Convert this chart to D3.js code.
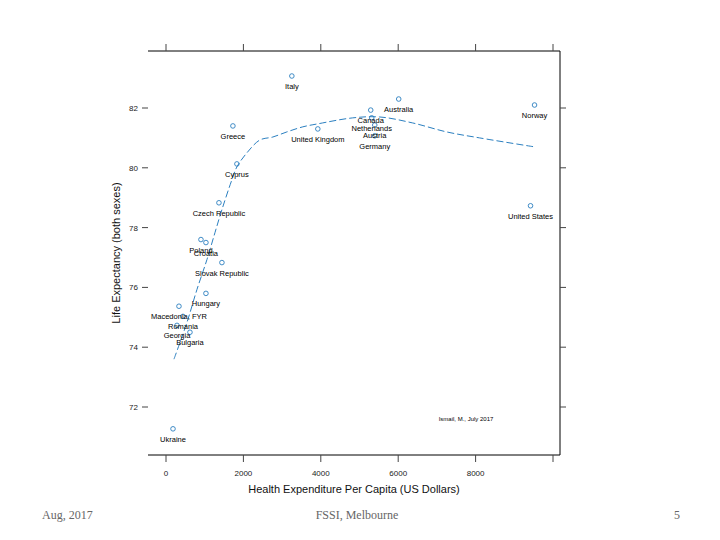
<!DOCTYPE html>
<html><head><meta charset="utf-8">
<script src="https://cdn.jsdelivr.net/npm/d3@7"></script>
<style>body{margin:0;background:#fff}</style>
</head><body>
<svg id="c" width="720" height="540"></svg>
<script>
const countries = ["Italy","Australia","Canada","Netherlands","Austria","Germany","Norway","United Kingdom","United States","Greece","Cyprus","Czech Republic","Poland","Croatia","Slovak Republic","Hungary","Macedonia, FYR","Romania","Georgia","Bulgaria","Ukraine"];
const spending = [3252,6013,5290,5316,5394,5394,9523,3923,9419,1729,1832,1368,903,1032,1445,1032,335,439,284,619,181];
const lifeExp = [83.07,82.30,81.93,81.67,81.43,81.07,82.10,81.30,78.73,81.40,80.13,78.83,77.60,77.50,76.83,75.80,75.37,75.03,74.73,74.50,71.27];
const smoothX = [206,542,800,1058,1265,1445,1703,1832,2090,2426,2761,3123,3535,3923,4826,5523,6374,7252,8103,9523];
const smoothY = [73.6,74.83,75.93,76.93,77.83,78.6,79.6,80.03,80.5,80.93,81.03,81.2,81.37,81.47,81.67,81.7,81.5,81.2,81.0,80.7];
const xTicks = [0,2000,4000,6000,8000];
const xTickMarks = [0,2000,4000,6000,8000,10000];
const yTicks = [72,74,76,78,80,82];

const svg = d3.select("#c");
const L=148,R=560,T=51,B=455;
const x = d3.scaleLinear().domain([0,10000]).range([166,553]);
const y = d3.scaleLinear().domain([72,82]).range([407,108]);
const blue = "#2b7fc0";

svg.append("path").attr("d",`M${L},${T}H${R}V${B}H${L}`).attr("fill","none").attr("stroke","#000").attr("stroke-width",1);

const tc="#444";
svg.append("g").selectAll("line").data(xTickMarks).join("line")
  .attr("x1",d=>x(d)).attr("x2",d=>x(d)).attr("y1",B).attr("y2",B+7).attr("stroke",tc);
svg.append("g").selectAll("line").data(xTickMarks).join("line")
  .attr("x1",d=>x(d)).attr("x2",d=>x(d)).attr("y1",T).attr("y2",T-7).attr("stroke",tc);
svg.append("g").selectAll("text").data(xTicks).join("text")
  .attr("x",d=>x(d)).attr("y",476).attr("text-anchor","middle")
  .attr("font-family","Liberation Sans, Arial, sans-serif").attr("font-size",8).attr("fill","#222").text(d=>d);
svg.append("g").selectAll("line").data(yTicks).join("line")
  .attr("x1",L-6).attr("x2",L).attr("y1",d=>y(d)).attr("y2",d=>y(d)).attr("stroke",tc);
svg.append("g").selectAll("line").data(yTicks).join("line")
  .attr("x1",R).attr("x2",R+6).attr("y1",d=>y(d)).attr("y2",d=>y(d)).attr("stroke",tc);
svg.append("g").selectAll("text").data(yTicks).join("text")
  .attr("x",138).attr("y",d=>y(d)+3).attr("text-anchor","end")
  .attr("font-family","Liberation Sans, Arial, sans-serif").attr("font-size",8).attr("fill","#222").text(d=>d);

svg.append("text").attr("x",354).attr("y",493).attr("text-anchor","middle")
  .attr("font-family","Liberation Sans, Arial, sans-serif").attr("font-size",11).attr("fill","#111")
  .text("Health Expenditure Per Capita (US Dollars)");
svg.append("text").attr("transform","translate(120,253) rotate(-90)").attr("text-anchor","middle")
  .attr("font-family","Liberation Sans, Arial, sans-serif").attr("font-size",11).attr("fill","#111")
  .text("Life Expectancy (both sexes)");

const line = d3.line().x(d=>x(d[0])).y(d=>y(d[1])).curve(d3.curveCatmullRom.alpha(0.5));
svg.append("path").datum(smoothX.map((v,i)=>[v,smoothY[i]]))
  .attr("d",line).attr("fill","none").attr("stroke",blue).attr("stroke-width",1).attr("stroke-dasharray","7,3");

const data = countries.map((c,i)=>({c,x:spending[i],y:lifeExp[i]}));
svg.append("g").selectAll("circle").data(data).join("circle")
  .attr("cx",d=>x(d.x)).attr("cy",d=>y(d.y)).attr("r",2.3)
  .attr("fill","none").attr("stroke",blue).attr("stroke-width",0.9);
svg.append("g").selectAll("text").data(data).join("text")
  .attr("x",d=>x(d.x)).attr("y",d=>y(d.y)+13).attr("text-anchor","middle")
  .attr("font-family","Liberation Sans, Arial, sans-serif").attr("font-size",7.5).attr("fill","#000")
  .text(d=>d.c);

svg.append("text").attr("x",466).attr("y",421).attr("text-anchor","middle")
  .attr("font-family","Liberation Sans, Arial, sans-serif").attr("font-size",6).attr("fill","#000")
  .text("Ismail, M., July 2017");

const ff="Liberation Serif, Times New Roman, serif";
svg.append("text").attr("x",42).attr("y",519).attr("font-family",ff).attr("font-size",12).attr("fill","#666").text("Aug, 2017");
svg.append("text").attr("x",357).attr("y",519).attr("text-anchor","middle").attr("font-family",ff).attr("font-size",12).attr("fill","#666").text("FSSI, Melbourne");
svg.append("text").attr("x",677).attr("y",519).attr("text-anchor","middle").attr("font-family",ff).attr("font-size",12).attr("fill","#666").text("5");
</script>
</body></html>
